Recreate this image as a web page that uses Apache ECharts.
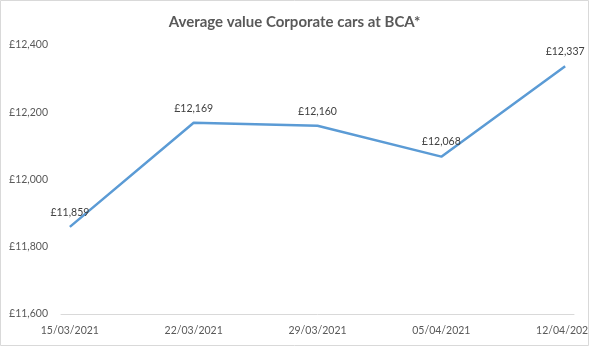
<!DOCTYPE html>
<html>
<head>
<meta charset="utf-8">
<script src="https://cdn.jsdelivr.net/npm/echarts@6/dist/echarts.min.js"></script>
<style>
  html, body { margin: 0; padding: 0; background: #fff; }
  #chart { width: 589px; height: 346px; }
</style>
</head>
<body>
<div id="chart"></div>
<script>
// Weekly auction averages
const saleDates = ['15/03/2021', '22/03/2021', '29/03/2021', '05/04/2021', '12/04/2021'];
const avgValues = [11859, 12169, 12160, 12068, 12337];
const yTicks = { min: 11600, max: 12400, interval: 200 };

// Daily date axis spanning the first to the last sale date
function parseDMY(s) {
  const [d, m, y] = s.split('/').map(Number);
  return new Date(Date.UTC(y, m - 1, d));
}
function fmtDMY(t) {
  const dd = String(t.getUTCDate()).padStart(2, '0');
  const mm = String(t.getUTCMonth() + 1).padStart(2, '0');
  return dd + '/' + mm + '/' + t.getUTCFullYear();
}
const days = [];
for (let t = parseDMY(saleDates[0]); t <= parseDMY(saleDates[saleDates.length - 1]); t = new Date(t.getTime() + 86400000)) {
  days.push(fmtDMY(t));
}
const seriesData = days.map(d => {
  const i = saleDates.indexOf(d);
  return i >= 0 ? avgValues[i] : null;
});
const isSaleDay = (idx) => saleDates.indexOf(days[idx]) >= 0;

const gbp = v => '£' + v.toLocaleString('en-GB');
const font = 'Lato, "Open Sans", sans-serif';

const chart = echarts.init(document.getElementById('chart'));
chart.setOption({
  animation: false,
  backgroundColor: '#fff',
  title: {
    text: 'Average value Corporate cars at BCA*',
    left: 'center',
    top: 10,
    textStyle: { fontFamily: font, fontSize: 15, fontWeight: 'bold', color: '#595959' }
  },
  graphic: [{
    type: 'rect',
    shape: { x: 0.5, y: 0.5, width: 588, height: 345 },
    style: { fill: 'none', stroke: '#d9d9d9', lineWidth: 1 },
    silent: true
  }],
  grid: { left: 61, right: 15, top: 45, bottom: 32, containLabel: false, outerBoundsMode: 'none' },
  xAxis: {
    type: 'category',
    data: days,
    boundaryGap: true,
    axisLine: { lineStyle: { color: '#d9d9d9', width: 1 } },
    axisTick: { interval: (idx) => isSaleDay(idx), length: 5, lineStyle: { color: '#d9d9d9' } },
    axisLabel: {
      interval: (idx) => isSaleDay(idx),
      color: '#595959', fontFamily: font, fontSize: 10.5, margin: 11
    },
    splitLine: { show: false }
  },
  yAxis: {
    type: 'value',
    min: yTicks.min, max: yTicks.max, interval: yTicks.interval,
    axisLine: { show: false },
    axisTick: { show: false },
    splitLine: { show: false },
    axisLabel: { color: '#595959', fontFamily: font, fontSize: 10.5, margin: 13, formatter: gbp }
  },
  series: [{
    type: 'line',
    data: seriesData,
    connectNulls: true,
    showSymbol: true,
    symbol: 'circle',
    symbolSize: 0.1,
    itemStyle: { color: '#5B9BD5' },
    lineStyle: { color: '#5B9BD5', width: 2.5 },
    label: {
      show: true,
      position: 'top',
      distance: 9,
      color: '#404040',
      fontFamily: font,
      fontSize: 10.5,
      formatter: p => (p.value == null ? '' : gbp(p.value))
    }
  }]
});
</script>
</body>
</html>
